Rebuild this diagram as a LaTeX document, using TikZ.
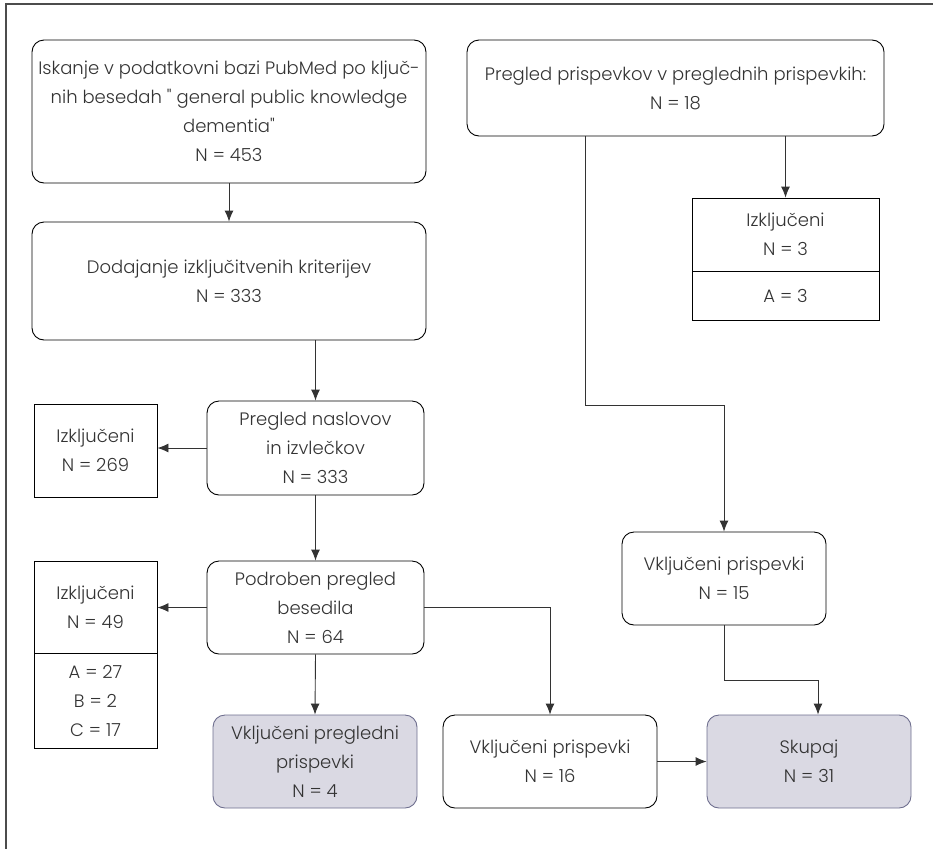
\documentclass[tikz,border=0pt]{standalone}
\usepackage{fontspec}
\setmainfont{Poppins}[UprightFont=* Light]
\newfontfamily\quotefont{Poppins}[UprightFont=* Light]
\newcommand{\dq}{{\quotefont"}}
\usetikzlibrary{arrows.meta}
\definecolor{txtgray}{HTML}{333333}
\definecolor{boxfill}{HTML}{DAD9E3}
\definecolor{boxline}{HTML}{6E6E8E}
\tikzset{
  box/.style={draw=black, line width=0.9pt, rounded corners=12pt, align=center, inner sep=0pt,
    font=\fontsize{18}{29}\selectfont, text=txtgray},
  sqbox/.style={box, rounded corners=0pt},
  endbox/.style={box, fill=boxfill, draw=boxline},
  arr/.style={draw=txtgray, line width=0.9pt, -{Latex[length=11pt,width=9pt]}}
}

\begin{document}
\begin{tikzpicture}[x=1pt, y=-1pt]
            \useasboundingbox (0,0) rectangle (933,849);
            \draw [draw=black!70, line width=1.4pt] (933,4) -- (6,4) -- (6,849);
            % left column
            \node [box, minimum width=394pt, minimum height=143pt] (search) at (229,111.5)
                {Iskanje v podatkovni bazi PubMed po klju\v{c}-\\nih besedah \dq{} general public knowledge\\dementia\dq\\N = 453};
            \node [box, minimum width=394pt, minimum height=118pt] (criteria) at (229,281)
                {Dodajanje izklju\v{c}itvenih kriterijev\\N = 333};
            \node [box, minimum width=217pt, minimum height=94pt] (titles) at (315.5,448)
                {Pregled naslovov\\in izvle\v{c}kov\\N = 333};
            \node [sqbox, minimum width=123pt, minimum height=93pt] (excl1) at (95.5,450.5)
                {Izklju\v{c}eni\\N = 269};
            \node [box, minimum width=217pt, minimum height=93pt] (fulltext) at (315.5,607.5)
                {Podroben pregled\\besedila\\N = 64};
            \node [sqbox, minimum width=123pt, minimum height=92pt] (excl2) at (95.5,607)
                {Izklju\v{c}eni\\N = 49};
            \node [sqbox, minimum width=123pt, minimum height=95pt] (excl2sub) at (95.5,700.5)
                {A = 27\\B = 2\\C = 17};
            \node [endbox, minimum width=204pt, minimum height=93pt] (inclrev) at (315,761.5)
                {Vklju\v{c}eni pregledni\\prispevki\\N = 4};
            \node [box, minimum width=214pt, minimum height=93pt] (incl16) at (550,761.5)
                {Vklju\v{c}eni prispevki\\N = 16};
            \node [endbox, minimum width=204pt, minimum height=93pt] (total) at (809,761.5)
                {Skupaj\\N = 31};
            % right column
            \node [box, minimum width=417pt, minimum height=96pt] (reviews) at (675.5,88)
                {Pregled prispevkov v preglednih prispevkih:\\N = 18};
            \node [sqbox, minimum width=187pt, minimum height=73pt] (excl3) at (785.5,234.5)
                {Izklju\v{c}eni\\N = 3};
            \node [sqbox, minimum width=187pt, minimum height=49pt] (excl3sub) at (785.5,295.5)
                {A = 3};
            \node [box, minimum width=204pt, minimum height=93pt] (incl15) at (724,578.5)
                {Vklju\v{c}eni prispevki\\N = 15};
            \coordinate (bendA) at (585,405);
            \coordinate (bendB) at (724,680);
            % connectors
            \draw [arr] (search.south) -- (criteria.north);
            \draw [arr] (titles.north |- criteria.south) -- (titles.north);
            \draw [arr] (titles.west) -- (titles.west -| excl1.east);
            \draw [arr] (titles.south) -- (fulltext.north);
            \draw [arr] (fulltext.west) -- (fulltext.west -| excl2.east);
            \draw [arr] (fulltext.south) -- (inclrev.north);
            \draw [arr] (fulltext.east) -| (incl16.north);
            \draw [arr] (incl16.east) -- (total.west);
            \draw [arr] (excl3.north |- reviews.south) -- (excl3.north);
            \draw [arr] (bendA |- reviews.south) -- (bendA) -| (incl15.north);
            \draw [arr] (incl15.south) -- (bendB) -| ([xshift=9pt]total.north);
        \end{tikzpicture}
\end{document}
